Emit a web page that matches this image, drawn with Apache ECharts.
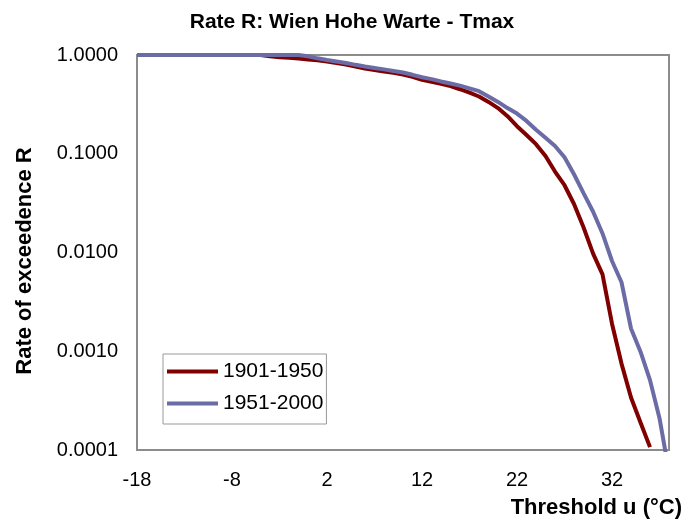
<!DOCTYPE html>
<html>
<head>
<meta charset="utf-8">
<script src="https://cdn.jsdelivr.net/npm/echarts@6/dist/echarts.min.js"></script>
<style>
  html, body { margin: 0; padding: 0; background: #fff; }
  #chart { width: 685px; height: 522px; }
</style>
</head>
<body>
<div id="chart"></div>
<script>
// threshold u (°C), one value per degree
const thresholds = [
  -18, -17, -16, -15, -14, -13, -12, -11, -10, -9, -8, -7, -6, -5, -4, -3, -2, -1,
  0, 1, 2, 3, 4, 5, 6, 7, 8, 9, 10, 11, 12, 13, 14, 15, 16, 17, 18, 19,
  20, 21, 22, 23, 24, 25, 26, 27, 28, 29, 30, 31, 32, 33, 34, 35, 36, 37, 38
];

// rate of exceedence R, 1901-1950
const rate1901 = [
  1, 1, 1, 1, 1, 1, 1, 1, 1, 1, 1, 1, 1, 1, 0.97, 0.95, 0.94, 0.92,
  0.90, 0.885, 0.86, 0.83, 0.80, 0.765, 0.73, 0.705, 0.68, 0.66, 0.635, 0.60, 0.56, 0.535, 0.51, 0.485, 0.45, 0.415, 0.38, 0.335,
  0.29, 0.24, 0.19, 0.155, 0.125, 0.095, 0.066, 0.048, 0.031, 0.018, 0.0098, 0.0060, 0.0019, 0.00075, 0.00034, 0.00019, 0.000107, null, null
];

// rate of exceedence R, 1951-2000
const rate1951 = [
  1, 1, 1, 1, 1, 1, 1, 1, 1, 1, 1, 1, 1, 1, 1, 1, 1, 1,
  0.97, 0.925, 0.89, 0.86, 0.83, 0.795, 0.765, 0.74, 0.715, 0.69, 0.665, 0.63, 0.595, 0.57, 0.54, 0.515, 0.49, 0.46, 0.43, 0.38,
  0.335, 0.29, 0.255, 0.215, 0.175, 0.145, 0.12, 0.092, 0.062, 0.040, 0.026, 0.0156, 0.0082, 0.0050, 0.0017, 0.00099, 0.00051, 0.00021, 0.00006
];

const pairs = vals => thresholds.map((t, i) => [t, vals[i]]);
const font = 'Liberation Sans, Arial';

const chart = echarts.init(document.getElementById('chart'));
chart.setOption({
  animation: false,
  title: {
    text: 'Rate R: Wien Hohe Warte - Tmax',
    left: 347,
    top: 7,
    textAlign: 'center',
    textStyle: { fontFamily: font, fontSize: 21, fontWeight: 'bold', color: '#000' }
  },
  legend: {
    orient: 'vertical',
    left: 163,
    top: 354,
    padding: [7, 3, 10, 4],
    itemGap: 11,
    itemWidth: 51,
    itemHeight: 4,
    icon: 'rect',
    backgroundColor: '#fff',
    borderColor: '#999',
    borderWidth: 1,
    borderRadius: 0,
    textStyle: { fontFamily: font, fontSize: 21, color: '#000' },
    data: ['1901-1950', '1951-2000']
  },
  grid: {
    left: 137,
    top: 55,
    right: 15,
    bottom: 72,
    show: true,
    borderColor: '#8c8c8c',
    borderWidth: 2
  },
  xAxis: {
    type: 'value',
    min: -18,
    max: 38,
    interval: 10,
    name: 'Threshold u (°C)',
    nameLocation: 'end',
    nameGap: 13,
    nameTextStyle: {
      fontFamily: font, fontSize: 22, fontWeight: 'bold', color: '#000',
      align: 'right', verticalAlign: 'top', padding: [47, 0, 0, 0]
    },
    axisLine: { show: false },
    axisTick: { show: false },
    splitLine: { show: false },
    axisLabel: {
      showMaxLabel: false,
      margin: 20,
      fontFamily: font, fontSize: 20, color: '#000'
    }
  },
  yAxis: {
    type: 'log',
    logBase: 10,
    min: 0.0001,
    max: 1,
    name: 'Rate of exceedence R',
    nameLocation: 'middle',
    nameGap: 101,
    nameTextStyle: {
      fontFamily: font, fontSize: 22, fontWeight: 'bold', color: '#000',
      padding: [0, 17, 0, 0]
    },
    axisLine: { show: false },
    axisTick: { show: false },
    splitLine: { show: false },
    axisLabel: {
      margin: 19,
      fontFamily: font, fontSize: 20, color: '#000',
      formatter: v => v.toFixed(4)
    }
  },
  series: [
    {
      name: '1901-1950',
      type: 'line',
      data: pairs(rate1901),
      showSymbol: false,
      symbol: 'none',
      clip: true,
      lineStyle: { color: '#800000', width: 4 },
      itemStyle: { color: '#800000' }
    },
    {
      name: '1951-2000',
      type: 'line',
      data: pairs(rate1951),
      showSymbol: false,
      symbol: 'none',
      clip: true,
      lineStyle: { color: '#6b6ba6', width: 4 },
      itemStyle: { color: '#6b6ba6' }
    }
  ]
});
</script>
</body>
</html>
